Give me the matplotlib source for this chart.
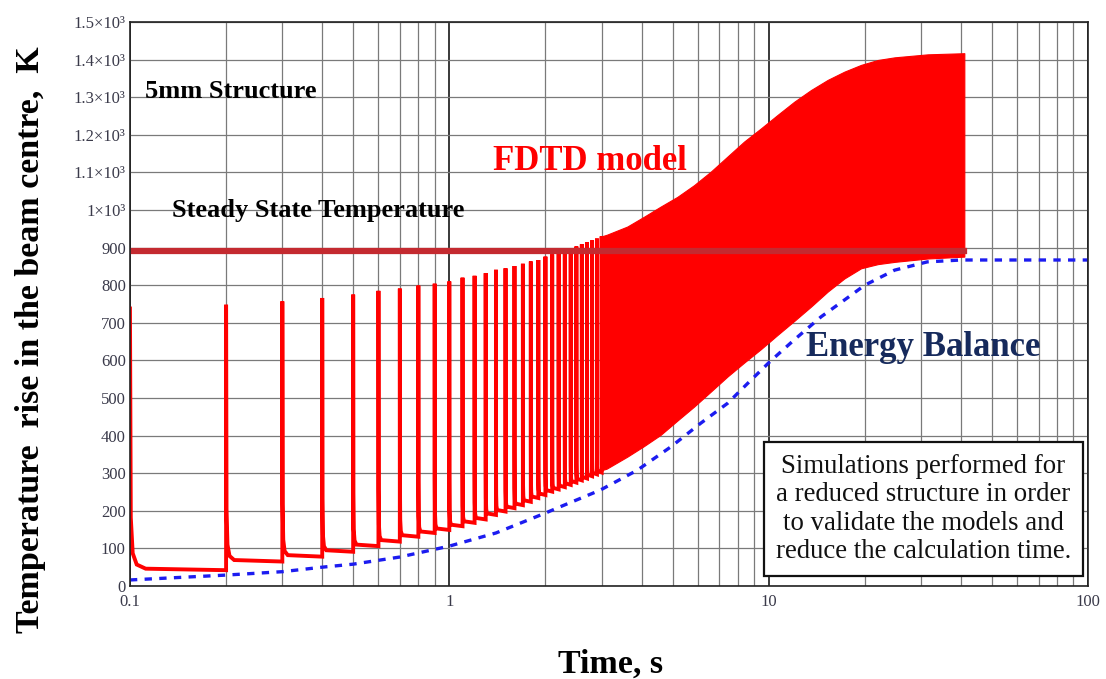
import numpy as np
import matplotlib.pyplot as plt
from matplotlib.ticker import FixedLocator, LogLocator, NullFormatter

plt.rcParams['font.family'] = ['Liberation Serif', 'DejaVu Serif']

# FDTD model: one heating pulse every 0.1 s
pulse_t = [0.1, 0.2, 0.3, 0.4, 0.5, 0.6, 0.7, 0.8, 0.9, 1.0,
           1.1, 1.2, 1.3, 1.4, 1.5, 1.6, 1.7, 1.8, 1.9, 2.0,
           2.1, 2.2, 2.3, 2.4, 2.5, 2.6, 2.7, 2.8, 2.9, 3.0]
pulse_peak = [738, 748, 757, 766, 775, 785, 791, 799, 804, 810,
              820, 825, 832, 841, 845, 851, 857, 863, 867, 876,
              882, 888, 893, 898, 903, 909, 914, 919, 924, 930]
pulse_floor = [42, 65, 78, 91, 106, 118, 131, 141, 149, 159,
               168, 177, 189, 198, 207, 215, 224, 234, 242, 251,
               257, 263, 269, 275, 281, 286, 292, 297, 302, 308]
# decay right after each spike (seconds after pulse, kelvin above floor)
tail_dt = [0.0006, 0.002, 0.005, 0.012]
tail_rise = [140, 45, 15, 4]

# dense pulse train after 3 s: min/max envelope
band_t = [3.0, 3.11, 3.61, 4.07, 4.59, 5.18, 5.84, 6.59, 7.43, 8.38, 9.46,
          10.67, 12.03, 13.57, 15.31, 17.27, 19.48, 21.98, 24.8, 31.5, 41.0]
band_hi = [930, 934, 956, 982, 1009, 1035, 1066, 1102, 1142, 1182, 1217,
           1253, 1288, 1319, 1346, 1368, 1386, 1399, 1406, 1414, 1417]
band_lo = [308, 312, 344, 372, 402, 440, 477, 517, 557, 594, 630,
           668, 705, 743, 783, 818, 845, 856, 862, 871, 876]

# energy balance model
eb_t = [0.1, 0.2, 0.3, 0.4, 0.5, 0.7, 1.0, 1.4, 2.0, 2.23, 2.97, 3.88, 4.94,
        6.13, 7.44, 8.6, 10.1, 12.0, 14.6, 17.3, 20.0, 24.8, 31.4, 40.0, 60.0, 100.0]
eb_T = [16, 29, 38, 50, 58, 77, 106, 141, 194, 211, 255, 308, 370,
        433, 486, 539, 597, 654, 716, 761, 800, 840, 862, 867, 867, 867]

steady_T = 890
steady_t = [0.1, 41.0]

yticks = list(range(0, 1600, 100))
ylabels = [str(v) for v in range(0, 1000, 100)] + \
          ['1\u00d710\u00b3', '1.1\u00d710\u00b3', '1.2\u00d710\u00b3',
           '1.3\u00d710\u00b3', '1.4\u00d710\u00b3', '1.5\u00d710\u00b3']
xticks = [0.1, 1, 10, 100]
xlabels = ['0.1', '1', '10', '100']

# build the pulsed FDTD trace
fx, fy = [], []
for k, t in enumerate(pulse_t):
    if k > 0:
        fx.append(t)
        fy.append(pulse_floor[k - 1])
    fx.append(t)
    fy.append(pulse_peak[k])
    for dt, r in zip(tail_dt, tail_rise):
        fx.append(t + dt)
        fy.append(pulse_floor[k] + r)
    t_next = pulse_t[k + 1] if k + 1 < len(pulse_t) else band_t[0]
    fx.append(t_next)
    fy.append(pulse_floor[k])

fig = plt.figure(figsize=(11.06, 6.79), dpi=100)
ax = fig.add_axes([0.1175, 0.137, 0.8662, 0.8306])
ax.set_xscale('log')
ax.set_xlim(0.1, 100)
ax.set_ylim(0, 1500)

# grid
ax.xaxis.set_minor_locator(LogLocator(base=10, subs=np.arange(2, 10)))
ax.xaxis.set_minor_formatter(NullFormatter())
ax.grid(True, which='minor', axis='x', color='#7a7a7a', lw=0.9)
ax.grid(True, which='major', axis='x', color='#2a2a2a', lw=1.3)
ax.grid(True, which='major', axis='y', color='#7a7a7a', lw=0.9)
ax.set_axisbelow(True)

ax.plot(fx, fy, color='#ff0000', lw=2.8, solid_joinstyle='miter')
ax.fill_between(band_t, band_lo, band_hi, color='#ff0000', lw=0.8,
                edgecolor='#ff0000')
ax.plot(steady_t, [steady_T, steady_T], color='#c42a30', lw=4.5)
ax.plot(eb_t, eb_T, color='#1c1cf0', lw=2.4, linestyle=(0, (2.2, 2.2)))

ax.yaxis.set_major_locator(FixedLocator(yticks))
ax.set_yticklabels(ylabels)
ax.set_xticks(xticks)
ax.set_xticklabels(xlabels)
ax.tick_params(axis='both', which='both', length=0, labelsize=12,
               labelcolor='#3a3a4a')
ax.tick_params(axis='y', pad=3)
ax.tick_params(axis='x', pad=6)
for s in ax.spines.values():
    s.set_color('#222222')
    s.set_linewidth(1.2)

fig.text(0.028, 0.499, 'Temperature  rise in the beam centre,  K',
         rotation=90, fontsize=24.5, fontweight='bold', ha='center', va='center')
fig.text(0.552, 0.0095, 'Time, s', fontsize=24.5, fontweight='bold',
         ha='center', va='baseline')

ax.text(0.0157, 0.876, '5mm Structure', transform=ax.transAxes,
        fontsize=19, fontweight='bold', va='center')
ax.text(0.0438, 0.665, 'Steady State Temperature', transform=ax.transAxes,
        fontsize=19, fontweight='bold', va='center')
ax.text(0.379, 0.752, 'FDTD model', transform=ax.transAxes, color='#ff0000',
        fontsize=25, fontweight='bold', va='center')
ax.text(0.7056, 0.422, 'Energy Balance', transform=ax.transAxes,
        color='#162a5c', fontsize=25, fontweight='bold', va='center')
ax.text(0.828, 0.1365,
        'Simulations performed for\na reduced structure in order\n'
        'to validate the models and\nreduce the calculation time.',
        transform=ax.transAxes, fontsize=19.3, ha='center', va='center',
        linespacing=1.18, color='#111111',
        bbox=dict(boxstyle='square,pad=0.45', fc='white', ec='#111111', lw=1.6))

fig.savefig('out.png', dpi=100)
